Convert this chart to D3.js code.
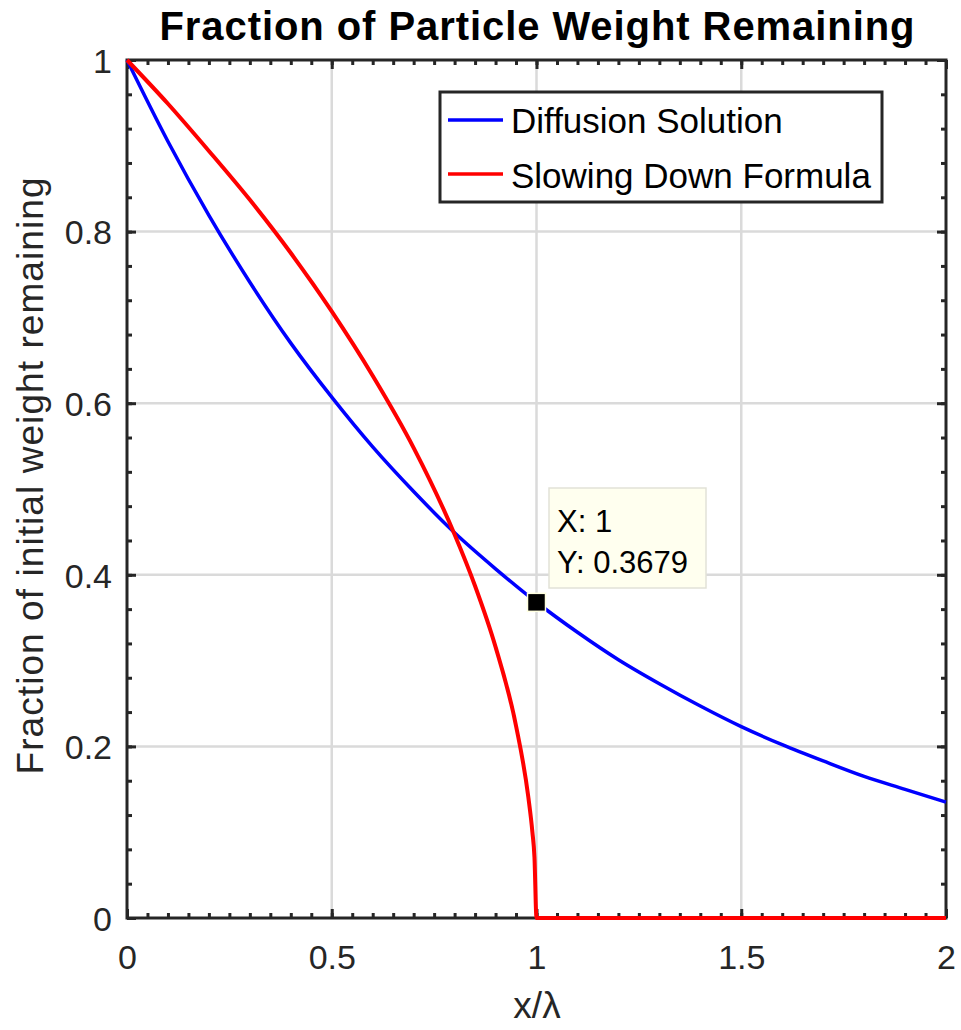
<!DOCTYPE html>
<html><head><meta charset="utf-8">
<script src="https://cdn.jsdelivr.net/npm/d3@7"></script>
<style>body{margin:0;background:#fff;} text{font-family:"Liberation Sans",Arial,Helvetica,sans-serif;}</style>
</head><body>
<svg id="chart" width="961" height="1030"></svg>
<script>
const titleText = "Fraction of Particle Weight Remaining";
const xLabelText = "x/\u03bb";
const yLabelText = "Fraction of initial weight remaining";
const seriesNames = ["Diffusion Solution", "Slowing Down Formula"];
const xTicks = [0, 0.5, 1, 1.5, 2];
const xTickLabels = ["0", "0.5", "1", "1.5", "2"];
const yTicks = [0, 0.2, 0.4, 0.6, 0.8, 1];
const yTickLabels = ["0", "0.2", "0.4", "0.6", "0.8", "1"];
const diffX = [0,0.1,0.2,0.3,0.4,0.5,0.6,0.7,0.8,0.9,1.0,1.1,1.2,1.3,1.4,1.5,1.6,1.7,1.8,1.9,2.0];
const diffY = [1,0.905,0.819,0.741,0.670,0.607,0.549,0.497,0.449,0.407,0.368,0.333,0.301,0.273,0.247,0.223,0.202,0.183,0.165,0.150,0.135];
const slowX = [0,0.1,0.2,0.3,0.4,0.5,0.6,0.7,0.8,0.85,0.9,0.95,0.98,0.99,0.995,1.0,2.0];
const slowY = [1,0.949,0.894,0.837,0.775,0.707,0.632,0.548,0.447,0.387,0.316,0.224,0.141,0.100,0.071,0,0];
const tipX = 1, tipY = 0.3679;

const svg = d3.select("#chart");
const L = 127, R = 946, T = 60, B = 918;
const x = d3.scaleLinear().domain([0, 2]).range([L, R]);
const y = d3.scaleLinear().domain([0, 1]).range([B, T]);
const axisColor = "#262626";

// grid
const g = svg.append("g");
g.selectAll(".gx").data(xTicks.slice(1, -1)).join("line")
  .attr("x1", d => x(d)).attr("x2", d => x(d)).attr("y1", T).attr("y2", B)
  .attr("stroke", "#dadada").attr("stroke-width", 2.5);
g.selectAll(".gy").data(yTicks.slice(1, -1)).join("line")
  .attr("y1", d => y(d)).attr("y2", d => y(d)).attr("x1", L).attr("x2", R)
  .attr("stroke", "#dadada").attr("stroke-width", 2.5);

// axes with ticks inward
const minorX = d3.range(0, 41).map(i => i * 0.05);
const minorY = d3.range(0, 26).map(i => i * 0.04);
function addAxis(axis, transform) {
  const a = svg.append("g").attr("transform", transform).call(axis);
  a.select(".domain").remove();
  a.selectAll(".tick line").attr("stroke", axisColor).attr("stroke-width", 3);
  a.selectAll(".tick text").attr("fill", axisColor).attr("font-size", 34)
    .attr("font-family", "'Liberation Sans', Arial, sans-serif");
  return a;
}
// minor ticks
addAxis(d3.axisBottom(x).tickValues(minorX).tickSize(-5).tickFormat(""), `translate(0,${B})`);
addAxis(d3.axisTop(x).tickValues(minorX).tickSize(-5).tickFormat(""), `translate(0,${T})`);
addAxis(d3.axisLeft(y).tickValues(minorY).tickSize(-5).tickFormat(""), `translate(${L},0)`);
addAxis(d3.axisRight(y).tickValues(minorY).tickSize(-5).tickFormat(""), `translate(${R},0)`);
// major ticks
addAxis(d3.axisBottom(x).tickValues(xTicks).tickSize(-9).tickPadding(27).tickFormat((d, i) => xTickLabels[i]), `translate(0,${B})`);
addAxis(d3.axisTop(x).tickValues(xTicks).tickSize(-9).tickFormat(""), `translate(0,${T})`);
const yl = addAxis(d3.axisLeft(y).tickValues(yTicks).tickSize(-9).tickPadding(15).tickFormat((d, i) => yTickLabels[i]), `translate(${L},0)`);
addAxis(d3.axisRight(y).tickValues(yTicks).tickSize(-9).tickFormat(""), `translate(${R},0)`);
yl.selectAll(".tick text").attr("dy", "0.36em");

// box
svg.append("rect").attr("x", L).attr("y", T).attr("width", R - L).attr("height", B - T)
  .attr("fill", "none").attr("stroke", axisColor).attr("stroke-width", 3);

// lines (drawn on top of the axes, as in the reference)
const lineGen = d3.line().x(d => x(d[0])).y(d => y(d[1])).curve(d3.curveMonotoneX);
const diffData = diffX.map((v, i) => [v, diffY[i]]);
const slowData = slowX.map((v, i) => [v, slowY[i]]);
svg.append("path").datum(diffData).attr("d", lineGen).attr("fill", "none")
  .attr("stroke", "#0000ff").attr("stroke-width", 3.5);
svg.append("path").datum(slowData).attr("d", lineGen).attr("fill", "none")
  .attr("stroke", "#ff0000").attr("stroke-width", 4);

// title & labels
svg.append("text").attr("x", 537).attr("y", 40).attr("text-anchor", "middle")
  .attr("font-size", 40).attr("font-weight", "bold").attr("fill", "#000")
  .attr("textLength", 755).attr("lengthAdjust", "spacing").text(titleText);
svg.append("text").attr("x", 537).attr("y", 1018).attr("text-anchor", "middle")
  .attr("font-size", 37).attr("fill", axisColor).text(xLabelText);
svg.append("text").attr("transform", `translate(43,476) rotate(-90)`).attr("text-anchor", "middle")
  .attr("font-size", 37).attr("fill", axisColor)
  .attr("textLength", 597).attr("lengthAdjust", "spacing").text(yLabelText);

// legend
const lg = svg.append("g");
lg.append("rect").attr("x", 440).attr("y", 92).attr("width", 442).attr("height", 110)
  .attr("fill", "#fff").attr("stroke", axisColor).attr("stroke-width", 3);
const colors = ["#0000ff", "#ff0000"];
seriesNames.forEach((n, i) => {
  const yy = 120 + i * 54;
  lg.append("line").attr("x1", 448).attr("x2", 503).attr("y1", yy).attr("y2", yy)
    .attr("stroke", colors[i]).attr("stroke-width", 3.5);
  lg.append("text").attr("x", 511).attr("y", 133 + i * 55).attr("font-size", 35)
    .attr("fill", "#000").text(n);
});

// datatip
const tip = svg.append("g");
tip.append("rect").attr("x", 549).attr("y", 488).attr("width", 157).attr("height", 100)
  .attr("fill", "#ffffef").attr("stroke", "#e2e2d8").attr("stroke-width", 1.5);
tip.append("text").attr("x", 557).attr("y", 532).attr("font-size", 31).attr("fill", "#000").text("X: " + tipX);
tip.append("text").attr("x", 557).attr("y", 573).attr("font-size", 31).attr("fill", "#000").text("Y: " + tipY);
tip.append("rect").attr("x", x(tipX) - 9).attr("y", y(tipY) - 9).attr("width", 18).attr("height", 18)
  .attr("fill", "#000").attr("stroke", "#ffffe0").attr("stroke-width", 1.5);
</script>
</body></html>
